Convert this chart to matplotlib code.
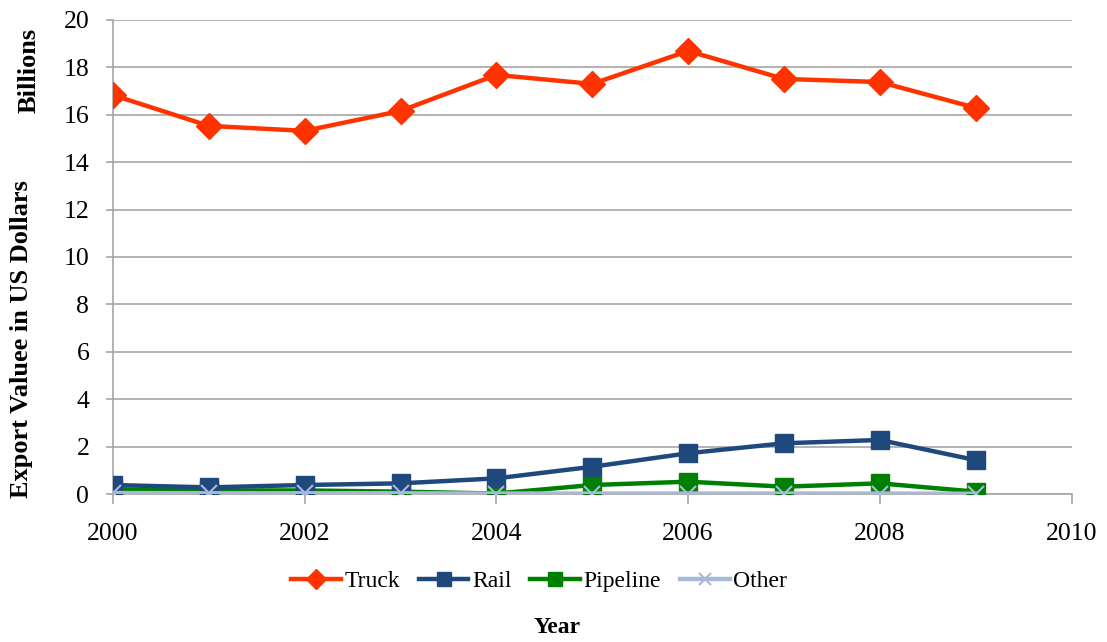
import numpy as np
import matplotlib
matplotlib.use('Agg')
from matplotlib import pyplot as plt

years = [2000, 2001, 2002, 2003, 2004, 2005, 2006, 2007, 2008, 2009]
truck = [16.83, 15.53, 15.32, 16.16, 17.68, 17.30, 18.69, 17.51, 17.38, 16.29]
rail = [0.38, 0.28, 0.38, 0.45, 0.66, 1.15, 1.72, 2.14, 2.28, 1.43]
pipeline = [0.20, 0.15, 0.15, 0.10, 0.02, 0.38, 0.52, 0.31, 0.45, 0.10]
other = [0.04, 0.03, 0.03, 0.03, 0.02, 0.02, 0.02, 0.02, 0.02, 0.01]

plt.rcParams['font.family'] = ['Liberation Serif', 'DejaVu Serif']

fig = plt.figure(figsize=(11.07, 6.42), dpi=100)
ax = fig.add_axes([0.102, 0.2305, 0.866, 0.7385])

ax.plot(years, truck, color='#FF3300', lw=3.2, marker='D', ms=13, label='Truck', zorder=5)
ax.plot(years, rail, color='#1F497D', lw=3.2, marker='s', ms=12.5, label='Rail', zorder=4)
ax.plot(years, pipeline, color='#008000', lw=3.2, marker='s', ms=12.5, label='Pipeline', zorder=3)
ax.plot(years, other, color='#A7B9DB', lw=3.2, marker='x', ms=12, mew=1.5, label='Other', zorder=6)

ax.set_xlim(2000, 2010)
ax.set_ylim(0, 20)
ax.set_xticks(np.arange(2000, 2011, 2))
ax.set_yticks(np.arange(0, 21, 2))
ax.grid(axis='y', color='#A6A6A6', lw=1.2)
ax.set_axisbelow(True)
for s in ['top', 'right']:
    ax.spines[s].set_visible(False)
for s in ['left', 'bottom']:
    ax.spines[s].set_color('#A6A6A6')
    ax.spines[s].set_linewidth(1.2)
ax.tick_params(axis='both', colors='#A6A6A6', width=1.2, labelsize=18.5,
               labelcolor='black')
ax.tick_params(axis='x', length=7, pad=14)
ax.tick_params(axis='y', length=5, pad=12)

fig.text(0.019, 0.472, 'Export Valuee in US Dollars', rotation=90, ha='center', va='center',
         fontsize=19, fontweight='bold')
fig.text(0.026, 0.891, 'Billions', rotation=90, ha='center', va='center',
         fontsize=19, fontweight='bold')

fig.legend(loc='center', bbox_to_anchor=(0.487, 0.094), ncol=4, frameon=False,
           fontsize=17, handlelength=2.1, handletextpad=0.15, columnspacing=0.8,
           markerscale=0.75)
fig.text(0.503, 0.022, 'Year', ha='center', va='center', fontsize=17, fontweight='bold')

fig.savefig('out.png', dpi=100)
